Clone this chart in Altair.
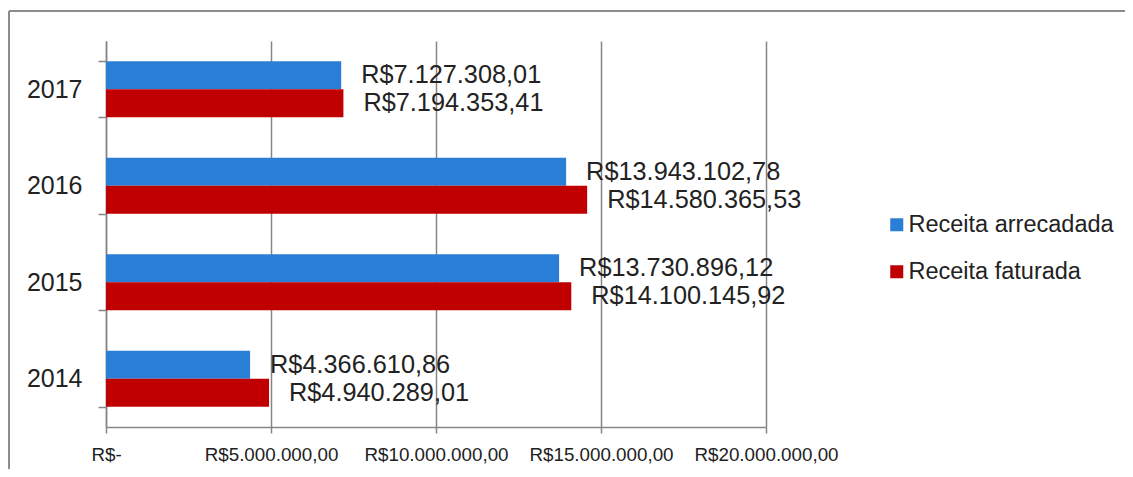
import altair as alt
import pandas as pd

years = ["2014", "2015", "2016", "2017"]
series = ["Receita arrecadada", "Receita faturada"]
arrecadada = [4366610.86, 13730896.12, 13943102.78, 7127308.01]
faturada = [4940289.01, 14100145.92, 14580365.53, 7194353.41]
colors = ["#2B7ED5", "#C00000"]
x_ticks = [0, 5000000, 10000000, 15000000, 20000000]
x_tick_labels = ["R$-", "R$5.000.000,00", "R$10.000.000,00", "R$15.000.000,00", "R$20.000.000,00"]


def brl(v):
    s = f"{v:,.2f}".replace(",", "X").replace(".", ",").replace("X", ".")
    return "R$" + s


rows = []
for i, y in enumerate(years):
    rows.append({"ano": y, "serie": series[0], "valor": arrecadada[i], "rotulo": brl(arrecadada[i])})
    rows.append({"ano": y, "serie": series[1], "valor": faturada[i], "rotulo": brl(faturada[i])})
df = pd.DataFrame(rows)

FONT = "Liberation Sans"
GRAY = "#868686"
TXT = "#222222"

label_expr = " : ".join(f"datum.value == {v} ? '{l}'" for v, l in zip(x_ticks, x_tick_labels)) + " : ''"

x_enc = alt.X(
    "valor:Q",
    scale=alt.Scale(domain=[0, 20000000], nice=False),
    axis=alt.Axis(
        values=x_ticks, title=None, labelExpr=label_expr, grid=True,
        gridColor=GRAY, gridWidth=1.5, domainColor=GRAY, domainWidth=1.5,
        tickColor=GRAY, tickWidth=1.5, tickSize=6, labelFont=FONT,
        labelFontSize=18.8, labelColor=TXT, labelPadding=12, labelFlush=False,
    ),
)
y_enc = alt.Y(
    "ano:N",
    sort=alt.SortField("ano", order="descending"),
    scale=alt.Scale(paddingInner=0.42, paddingOuter=0.21),
    axis=alt.Axis(
        title=None, tickBand="extent", domainColor=GRAY, domainWidth=1.5,
        tickColor=GRAY, tickWidth=1.5, tickSize=8, labelPadding=16,
        labelFont=FONT, labelFontSize=25, labelColor=TXT, grid=False,
    ),
)
yoff = alt.YOffset("serie:N", sort=series, scale=alt.Scale(paddingInner=0, paddingOuter=0))

base = alt.Chart(df)

bars = base.mark_bar().encode(
    x=x_enc,
    y=y_enc,
    yOffset=yoff,
    color=alt.Color(
        "serie:N",
        scale=alt.Scale(domain=series, range=colors),
        legend=alt.Legend(
            title=None, orient="none", legendX=779, legendY=172,
            symbolType="square", symbolSize=169, symbolStrokeWidth=0,
            labelFont=FONT, labelFontSize=23.5, labelColor=TXT, labelLimit=400,
            rowPadding=22, labelOffset=0, padding=0,
        ),
    ),
)

labels = base.mark_text(
    align="left", baseline="middle", dx=20, font=FONT, fontSize=25.3, color=TXT
).encode(
    x="valor:Q",
    y=alt.Y("ano:N", sort=alt.SortField("ano", order="descending")),
    yOffset=yoff,
    text="rotulo:N",
)

frame_data = alt.Data(values=[{}])
frame_top = alt.Chart(frame_data).mark_rule(color="#8c8c8c", strokeWidth=2).encode(
    x=alt.value(-97), x2=alt.value(1100), y=alt.value(-30)
)
frame_left = alt.Chart(frame_data).mark_rule(color="#8c8c8c", strokeWidth=2).encode(
    x=alt.value(-97), y=alt.value(-30), y2=alt.value(600)
)

chart = alt.layer(bars, labels, frame_top, frame_left).properties(
    width=660,
    height=386,
    autosize=alt.AutoSizeParams(type="none"),
    padding={"left": 98, "top": 33, "right": 359, "bottom": 42},
).configure_view(stroke=None)

chart.save("out.html", embed_options={"renderer": "svg", "actions": False})
